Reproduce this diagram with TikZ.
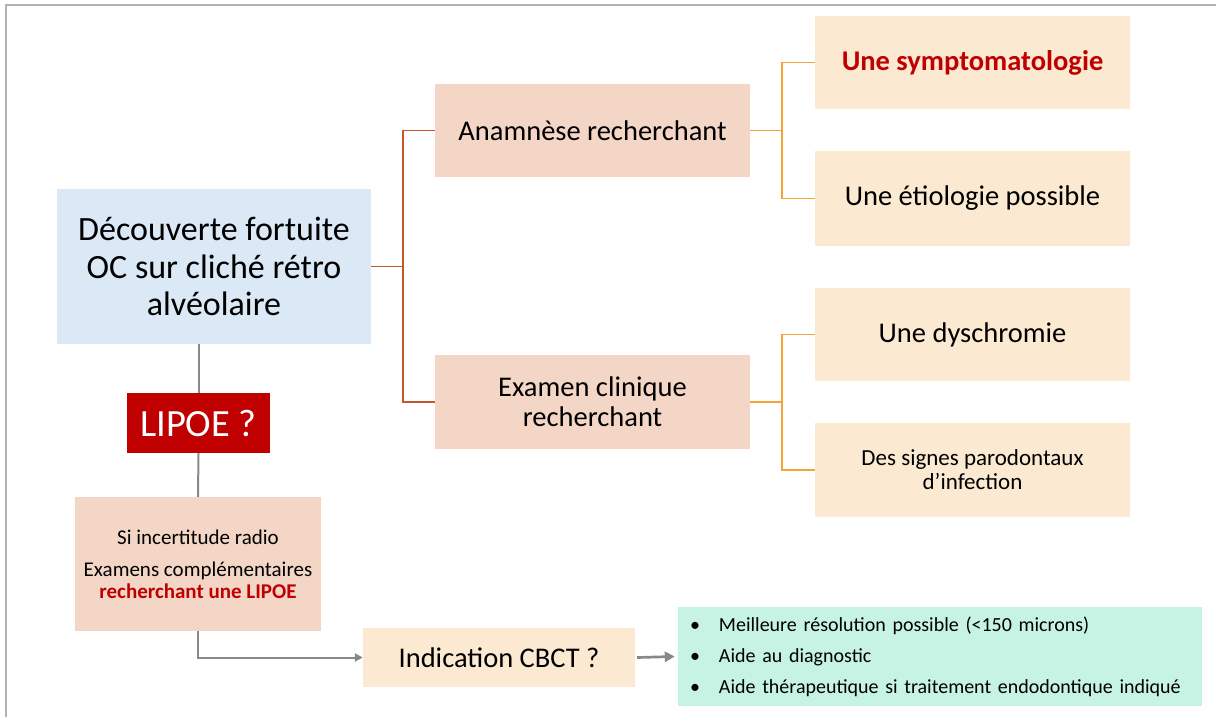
\documentclass[tikz,border=0pt]{standalone}
\usepackage{fontspec}
\setmainfont{Carlito}
\usepackage{tikz}
\usetikzlibrary{arrows.meta, positioning}
\definecolor{bleuclair}{HTML}{DAE9F5}
\definecolor{saumon}{HTML}{F4D6C6}
\definecolor{creme}{HTML}{FBE9D1}
\definecolor{menthe}{HTML}{C6F3E3}
\definecolor{rougefonce}{HTML}{C00000}
\definecolor{brique}{HTML}{C5582A}
\definecolor{orangeclair}{HTML}{F4A43A}
\definecolor{grisfil}{HTML}{888888}
\newcommand{\taille}[2]{\fontsize{#1}{#2}\selectfont}
\newcommand{\puce}[1]{\mbox{\makebox[29pt][l]{\textbullet}#1}}
\tikzstyle{boite} = [rectangle, inner sep=0pt, align=center, text=black]
\tikzstyle{racine} = [boite, fill=bleuclair, minimum width=314pt, minimum height=155pt, font=\taille{34}{37.5}]
\tikzstyle{branche} = [boite, fill=saumon, minimum width=315pt, minimum height=93pt, font=\taille{28.5}{30}]
\tikzstyle{feuille} = [boite, fill=creme, minimum width=315pt, minimum height=94pt, font=\taille{28.5}{30}]
\tikzstyle{filbrique} = [draw=brique, line width=1.5pt]
\tikzstyle{filorange} = [draw=orangeclair, line width=1.7pt]
\tikzstyle{filgris} = [draw=grisfil, line width=2pt]
\tikzstyle{fleche} = [filgris, -{Triangle[length=8pt, width=8pt]}]

\begin{document}
\begin{tikzpicture}[x=1pt, y=-1pt]
	\useasboundingbox (0,0) rectangle (1216,717);
	\draw[draw=black!30, line width=1.6pt] (6,717) -- (6,5) -- (1216,5);

	\node[racine] (decouverte) at (214,266.5) {Découverte fortuite\\OC sur cliché rétro\\alvéolaire};
	\node[boite, fill=rougefonce, text=white, minimum width=143pt, minimum height=60pt, font=\taille{38.5}{40}] (lipoe) at (198.5,423) {LIPOE ?};
	\node[boite, fill=saumon, minimum width=246pt, minimum height=134pt, font=\taille{21}{22}] (incertitude) at (198,564)
		{Si incertitude radio\\[10pt]Examens complémentaires\\\textbf{\color{rougefonce}recherchant une LIPOE}};
	\node[boite, fill=creme, minimum width=272pt, minimum height=59pt, font=\taille{28.5}{30}] (cbct) at (499,657.5) {Indication CBCT ?};
	\node[boite, fill=menthe, minimum width=524pt, minimum height=99pt, text width=500pt, align=left, font=\taille{20}{31}] (apports) at (940,656.5)
		{\puce{Meilleure résolution possible (<150 microns)}\\
		 \puce{Aide au diagnostic}\\
		 \puce{Aide thérapeutique si traitement endodontique indiqué}};

	\node[branche] (anamnese) at (592.5,130.5) {Anamnèse recherchant};
	\node[branche, minimum height=94pt] (examen) at (592.5,402) {Examen clinique\\recherchant};

	\node[feuille, minimum height=93pt] (sympto) at (972.5,62.5) {\textbf{\color{rougefonce}Une symptomatologie}};
	\node[feuille, minimum height=95pt] (etiologie) at (972.5,198.5) {Une étiologie possible};
	\node[feuille, minimum height=93pt] (dyschromie) at (972.5,334.5) {Une dyschromie};
	\node[feuille, font=\taille{23}{24}] (signes) at (972.5,470) {Des signes parodontaux\\d’infection};

	\draw[filbrique] (decouverte.east) -- ++(32,0) |- (anamnese.west);
	\draw[filbrique] (decouverte.east) -- ++(32,0) |- (examen.west);
	\draw[filorange] (anamnese.east) -- ++(32,0) |- (sympto.west);
	\draw[filorange] (anamnese.east) -- ++(32,0) |- (etiologie.west);
	\draw[filorange] (examen.east) -- ++(32,0) |- (dyschromie.west);
	\draw[filorange] (examen.east) -- ++(32,0) |- (signes.west);

	\draw[filgris] (lipoe.north) -- (lipoe.north |- decouverte.south);
	\draw[filgris] (lipoe.south) -- (incertitude.north);
	\draw[fleche] (incertitude.south) |- (cbct.west);
	\draw[fleche, line width=2.7pt, -{Triangle[length=10pt, width=10pt]}] ([xshift=2pt]cbct.east) -- ([xshift=-3pt]apports.west);
\end{tikzpicture}
\end{document}
